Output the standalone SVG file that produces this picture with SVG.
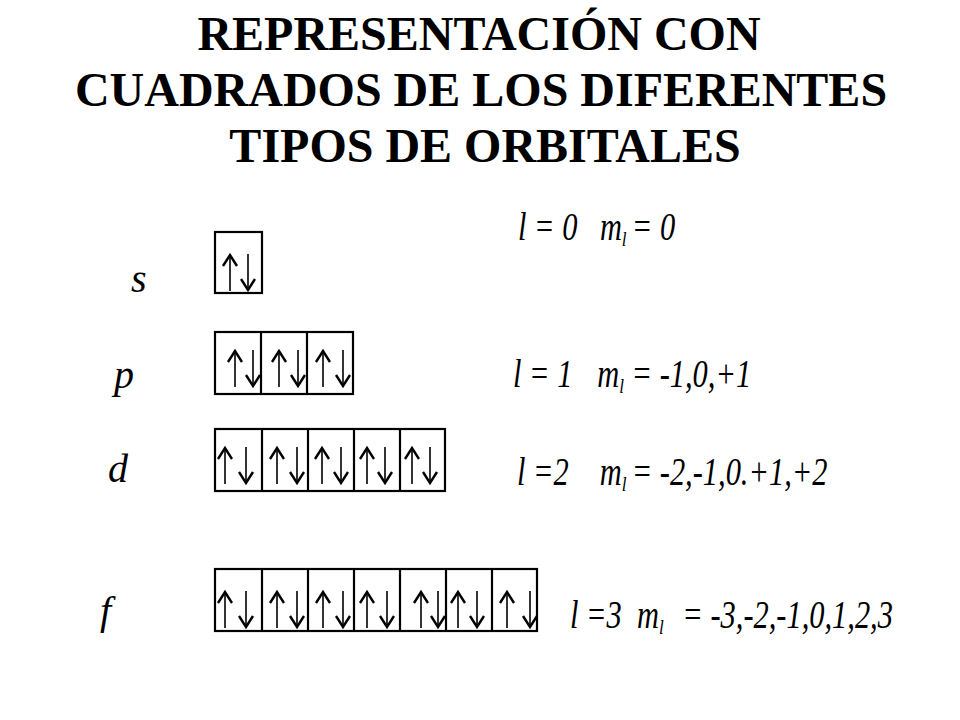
<svg xmlns="http://www.w3.org/2000/svg" xmlns:xlink="http://www.w3.org/1999/xlink" width="960" height="720" viewBox="0 0 960 720">
<style>
.title{font-family:"Liberation Serif","Times New Roman",serif;font-weight:bold;font-size:48px;fill:#000;text-anchor:middle}
.lab{font-family:"Liberation Serif","Times New Roman",serif;font-style:italic;font-size:40px;fill:#000}
.eq{font-family:"Liberation Serif","Times New Roman",serif;font-style:italic;font-size:39px;fill:#000}
.sub{font-size:22px}
.box{fill:none;stroke:#000;stroke-width:2.2}
.div{stroke:#000;stroke-width:2.2}
.shaft{stroke:#000;stroke-width:1.6;fill:none}
.head{stroke:#000;stroke-width:2.4;fill:none;stroke-linejoin:miter}
</style>
<defs>
<g id="upA"><path class="shaft" d="M0,1 V37"/><path class="head" d="M-7,12 L0,1 L7,12"/></g>
<g id="dnA"><path class="shaft" d="M0,0 V36"/><path class="head" d="M-7,25 L0,36 L7,25"/></g>
</defs>
<rect width="960" height="720" fill="#fff"/>
<g id="title">
<text class="title" x="479" y="50">REPRESENTACIÓN CON</text>
<text class="title" x="481" y="106">CUADRADOS DE LOS DIFERENTES</text>
<text class="title" x="485" y="162">TIPOS DE ORBITALES</text>
</g>
<g id="orbital-s">
<text class="lab" x="131" y="292">s</text>
<rect class="box" x="215" y="232" width="47" height="61"/>
<use xlink:href="#upA" x="230" y="254"/><use xlink:href="#dnA" x="248" y="254"/>
</g>
<g id="orbital-p">
<text class="lab" x="114" y="388">p</text>
<rect class="box" x="215" y="332" width="138" height="62"/>
<path class="div" d="M261,332V394M307,332V394"/>
<use xlink:href="#upA" x="235" y="350"/><use xlink:href="#dnA" x="253" y="350"/>
<use xlink:href="#upA" x="279" y="350"/><use xlink:href="#dnA" x="298" y="350"/>
<use xlink:href="#upA" x="323" y="350"/><use xlink:href="#dnA" x="343" y="350"/>
</g>
<g id="orbital-d">
<text class="lab" x="108" y="482">d</text>
<rect class="box" x="215" y="429" width="230" height="62"/>
<path class="div" d="M262,429V491M308,429V491M354,429V491M400,429V491"/>
<use xlink:href="#upA" x="225" y="447"/><use xlink:href="#dnA" x="246" y="447"/>
<use xlink:href="#upA" x="277" y="447"/><use xlink:href="#dnA" x="297" y="447"/>
<use xlink:href="#upA" x="322" y="447"/><use xlink:href="#dnA" x="341" y="447"/>
<use xlink:href="#upA" x="367" y="447"/><use xlink:href="#dnA" x="385" y="447"/>
<use xlink:href="#upA" x="412" y="447"/><use xlink:href="#dnA" x="430" y="447"/>
</g>
<g id="orbital-f">
<text class="lab" x="100" y="624">f</text>
<rect class="box" x="215" y="569" width="322" height="62"/>
<path class="div" d="M262,569V631M308,569V631M354,569V631M400,569V631M446,569V631M492,569V631"/>
<use xlink:href="#upA" x="225" y="591"/><use xlink:href="#dnA" x="246" y="591"/>
<use xlink:href="#upA" x="277" y="591"/><use xlink:href="#dnA" x="297" y="591"/>
<use xlink:href="#upA" x="323" y="591"/><use xlink:href="#dnA" x="343" y="591"/>
<use xlink:href="#upA" x="367" y="591"/><use xlink:href="#dnA" x="387" y="591"/>
<use xlink:href="#upA" x="421" y="591"/><use xlink:href="#dnA" x="438" y="591"/>
<use xlink:href="#upA" x="458" y="591"/><use xlink:href="#dnA" x="477" y="591"/>
<use xlink:href="#upA" x="507" y="591"/><use xlink:href="#dnA" x="530" y="591"/>
</g>
<g id="quantum-s" transform="translate(518,240) scale(0.78,1)">
<text class="eq" x="0" y="0">l = 0<tspan x="105">m</tspan><tspan class="sub" dy="6">l</tspan><tspan x="146" dy="-6">= 0</tspan></text>
</g>
<g id="quantum-p" transform="translate(513,387) scale(0.78,1)">
<text class="eq" x="0" y="0">l = 1<tspan x="108">m</tspan><tspan class="sub" dy="6">l</tspan><tspan x="152" dy="-6">= -1,0,+1</tspan></text>
</g>
<g id="quantum-d" transform="translate(517,485) scale(0.78,1)">
<text class="eq" x="0" y="0">l =2<tspan x="106">m</tspan><tspan class="sub" dy="6">l</tspan><tspan x="147" dy="-6">= -2,-1,0.+1,+2</tspan></text>
</g>
<g id="quantum-f" transform="translate(570,628) scale(0.78,1)">
<text class="eq" x="0" y="0">l =3<tspan x="86">m</tspan><tspan class="sub" dy="6">l</tspan><tspan x="144" dy="-6">= -3,-2,-1,0,1,2,3</tspan></text>
</g>
</svg>
